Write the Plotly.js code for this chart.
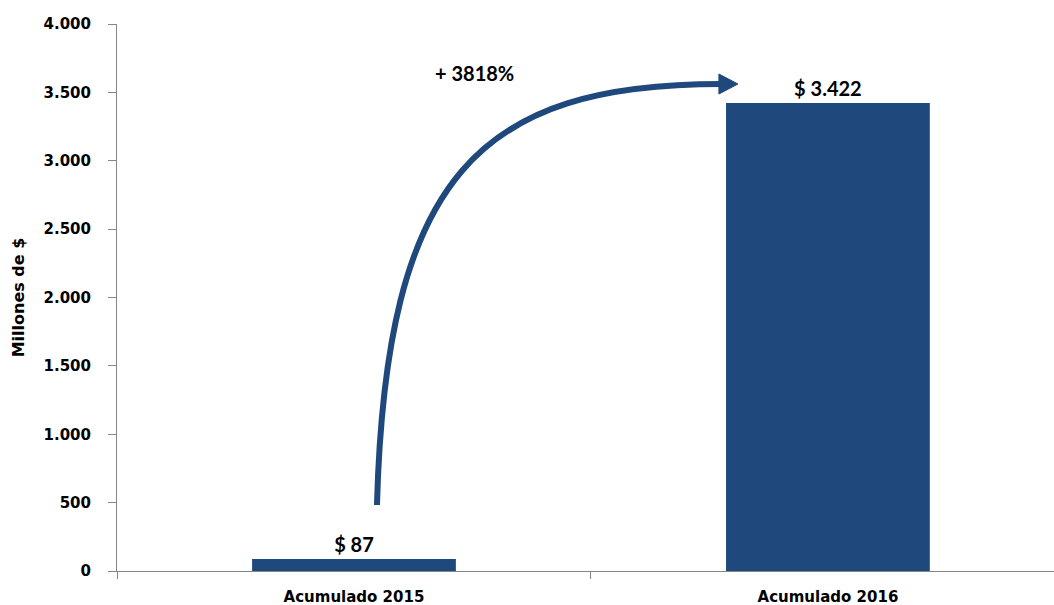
<!DOCTYPE html>
<html>
<head>
<meta charset="utf-8">
<script src="https://cdn.plot.ly/plotly-3.0.1.min.js"></script>
<style>html,body{margin:0;padding:0;background:#fff;}#chart{width:1054px;height:605px;}</style>
</head>
<body>
<div id="chart"></div>
<script>
var categories = ["Acumulado 2015", "Acumulado 2016"];
var values = [87, 3422];
var valueLabels = ["$ 87", "$ 3.422"];
var yTickVals = [0, 500, 1000, 1500, 2000, 2500, 3000, 3500, 4000];
var yTickText = ["0", "500", "1.000", "1.500", "2.000", "2.500", "3.000", "3.500", "4.000"];
var growthLabel = "+ 3818%";

var barColor = "#1f497d";
var axisColor = "#868686";

// pixel -> data helpers for the decorative arrow (plot area: x 117..1054, y 24..571)
function px2x(px){ return -0.5 + (px - 117) / 474; }
function py2y(py){ return (571 - py) * 4000 / 547; }
function P(px, py){ return px2x(px).toFixed(4) + "," + py2y(py).toFixed(2); }

var curve = "M" + P(377,505) + " C" + P(386,175) + " " + P(480,84) + " " + P(722,84);
var head = "M" + P(719,74) + " L" + P(738,84) + " L" + P(719,94) + " Z";

var trace = {
  type: "bar",
  x: categories,
  y: values,
  width: 0.43,
  marker: {color: barColor, line: {width: 0}},
  text: valueLabels,
  textposition: "outside",
  cliponaxis: false,
  textfont: {family: "Lato, 'Open Sans', sans-serif", size: 20, color: "#000", weight: "bold"},
  hoverinfo: "none"
};

var layout = {
  width: 1054, height: 605,
  margin: {l: 117, r: 0, t: 24, b: 34},
  paper_bgcolor: "#fff", plot_bgcolor: "#fff",
  showlegend: false,
  xaxis: {
    type: "category",
    range: [-0.5, 1.477],
    showline: true, linecolor: axisColor, linewidth: 1,
    ticks: "outside", tickson: "boundaries", ticklen: 7, tickcolor: axisColor,
    showgrid: false, zeroline: false,
    ticklabelstandoff: 12,
    tickfont: {family: "'DejaVu Sans', Verdana, sans-serif", size: 15, color: "#000", weight: "bold"}
  },
  yaxis: {
    range: [0, 4000],
    tickvals: yTickVals, ticktext: yTickText,
    showline: true, linecolor: axisColor, linewidth: 1,
    ticks: "outside", ticklen: 8, tickcolor: axisColor,
    showgrid: false, zeroline: false,
    ticklabelstandoff: 14,
    tickfont: {family: "'DejaVu Sans', Verdana, sans-serif", size: 15, color: "#000", weight: "bold"},
    title: {text: "Millones de $", standoff: 14, font: {family: "'DejaVu Sans', Verdana, sans-serif", size: 16, color: "#000", weight: "bold"}}
  },
  shapes: [
    {type: "path", xref: "x", yref: "y", path: curve, line: {color: barColor, width: 6}, fillcolor: "rgba(0,0,0,0)"},
    {type: "path", xref: "x", yref: "y", path: head, line: {color: barColor, width: 1}, fillcolor: barColor}
  ],
  annotations: [
    {xref: "x", yref: "y", x: px2x(475), y: py2y(73), text: growthLabel, showarrow: false,
     font: {family: "Lato, 'Open Sans', sans-serif", size: 20, color: "#000", weight: "bold"}}
  ]
};

Plotly.newPlot("chart", [trace], layout, {displayModeBar: false, staticPlot: true});
</script>
</body>
</html>
